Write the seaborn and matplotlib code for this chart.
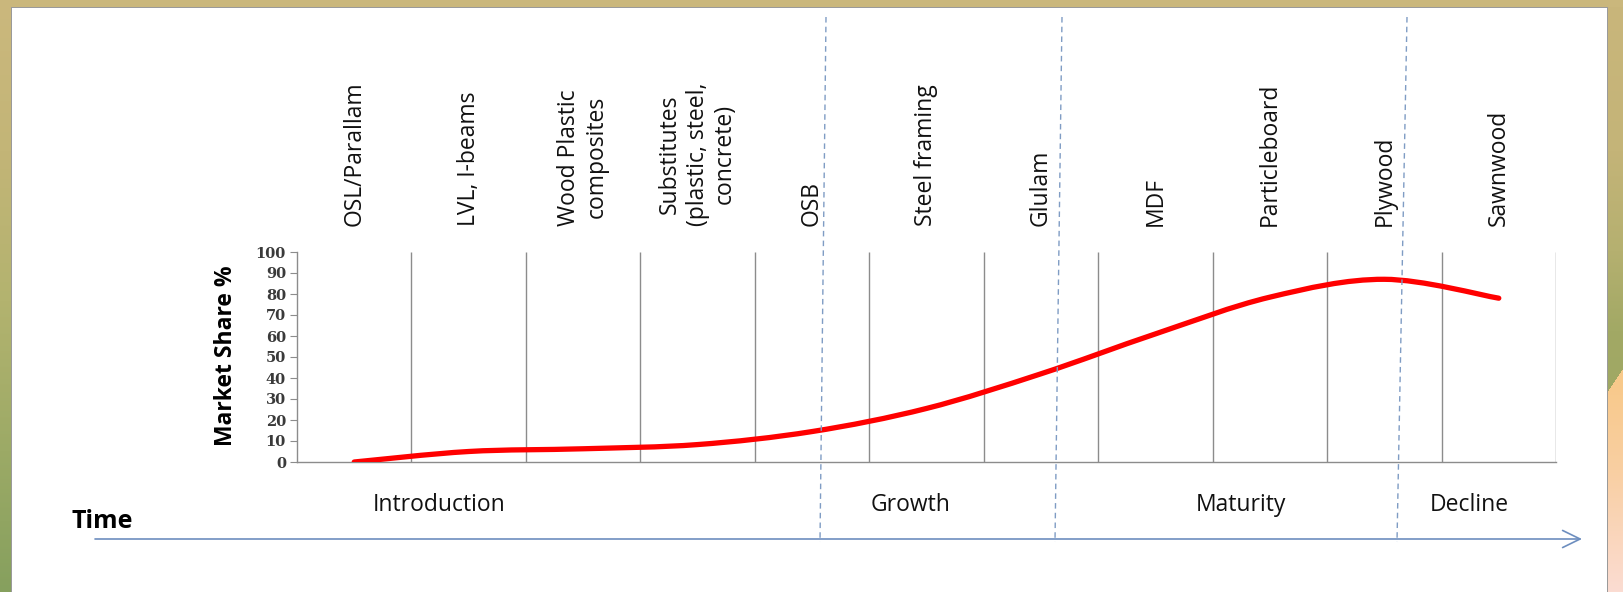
import numpy as np
import pandas as pd
import matplotlib
matplotlib.use("Agg")
import matplotlib.pyplot as plt
import seaborn as sns
from matplotlib.path import Path
from matplotlib.patches import PathPatch
from matplotlib.lines import Line2D

# ---------------- data ----------------
categories = ["OSL/Parallam", "LVL, I-beams", "Wood Plastic\ncomposites",
              "Substitutes\n(plastic, steel,\nconcrete)", "OSB", "Steel framing",
              "Glulam", "MDF", "Particleboard", "Plywood", "Sawnwood"]
market_share = [0, 5, 6.3, 8.3, 14.5, 25.5, 42, 61, 78.5, 87, 78]
y_ticks = list(range(0, 101, 10))
phases = ["Introduction", "Growth", "Maturity", "Decline"]

W, H = 1624, 592

def fx(px):
    return px / W

def fy(py):
    return 1 - py / H

def hex2rgb(h):
    h = h.lstrip('#')
    return np.array([int(h[i:i + 2], 16) / 255 for i in (0, 2, 4)])

def vgrad(stops, n):
    ys = np.arange(n)
    pos = [s[0] for s in stops]
    cols = np.array([hex2rgb(s[1]) for s in stops])
    return np.stack([np.interp(ys, pos, cols[:, c]) for c in range(3)], axis=1)

# ---------------- background (slide frame) ----------------
bg = np.ones((H, W, 3))
left = vgrad([(0, '#cbb87d'), (150, '#c3b577'), (300, '#b3b36f'), (450, '#9caa66'), (591, '#86a05e')], H)
right = vgrad([(0, '#c9b67b'), (150, '#c4b478'), (250, '#b5b070'), (330, '#a2a965'), (591, '#98a860')], H)
peach = vgrad([(0, '#f8c98a'), (380, '#f8c98a'), (470, '#f9cfa2'), (591, '#fbdcd2')], H)
bg[:, :11, :] = left[:, None, :]
bg[:, 1607:, :] = right[:, None, :]
yy, xx = np.mgrid[0:H, 0:W]
mask = (xx >= 1607) & (yy > 392 - (xx - 1607) * 1.53)
bg[mask] = peach[yy[mask]]
bg[:7, :, :] = hex2rgb('#cab77c')
# panel border
border = hex2rgb('#9a9a9a')
bg[7, 11:1608, :] = border
bg[7:, 11, :] = border
bg[7:, 1607, :] = border

sns.set_theme(style="white")
plt.rcParams['font.family'] = ['Open Sans', 'DejaVu Sans']

fig = plt.figure(figsize=(W / 100, H / 100), dpi=100)
fig.figimage(bg, xo=0, yo=0, origin='upper', zorder=-10)

ax = fig.add_axes([fx(297), fy(462), (1556 - 297) / W, (462 - 252) / H])
ax.patch.set_alpha(0)

df = pd.DataFrame({"idx": np.arange(len(categories)), "share": market_share})
sns.lineplot(data=df, x="idx", y="share", ax=ax, linewidth=0, color="red")

# smoothed line (Bezier through the data points, like a spreadsheet "smoothed line")
pts = np.column_stack([df["idx"].values, df["share"].values]).astype(float)
n = len(pts)
verts = [tuple(pts[0])]
codes = [Path.MOVETO]
for i in range(n - 1):
    p_prev = pts[max(i - 1, 0)]
    p0 = pts[i]
    p1 = pts[i + 1]
    p_next = pts[min(i + 2, n - 1)]
    c1 = p0 + (p1 - p_prev) / 6
    c2 = p1 - (p_next - p0) / 6
    verts += [tuple(c1), tuple(c2), tuple(p1)]
    codes += [Path.CURVE4] * 3
curve = PathPatch(Path(verts, codes), facecolor='none', edgecolor='#ff0000',
                  linewidth=3.8, capstyle='round', joinstyle='round', zorder=5)
ax.add_patch(curve)

ax.set_xlim(-0.5, len(categories) - 0.5)
ax.set_ylim(0, 100)

# vertical category gridlines
ax.vlines(np.arange(len(categories)) + 0.5, 0, 100, color='#8c8c8c', linewidth=1.0, zorder=1)

for s in ['top', 'right']:
    ax.spines[s].set_visible(False)
for s in ['left', 'bottom']:
    ax.spines[s].set_color('#8c8c8c')
    ax.spines[s].set_linewidth(1.0)

ax.set_yticks(y_ticks)
ax.set_yticklabels([str(v) for v in y_ticks], fontfamily='DejaVu Serif',
                   fontweight='bold', fontsize=10.5, color='#3a3a3a')
ax.tick_params(axis='y', direction='out', length=5, width=0.8, color='#8c8c8c', pad=3, left=True)

ax.set_xticks(df["idx"].values)
ax.set_xticklabels(categories, rotation=90, fontsize=16.5, color='#111111')
for lbl in ax.get_xticklabels():
    lbl.set_multialignment('center')
ax.xaxis.set_ticks_position('top')
ax.tick_params(axis='x', length=0, pad=19, top=True, bottom=False)
ax.set_xlabel("")
ax.set_ylabel("")

fig.text(fx(226), fy(356), "Market Share %", rotation=90, ha='center', va='center',
         fontsize=16.5, fontweight='bold', color='#000000')

# phase labels
phase_x = [439, 911, 1241, 1469]
for name, px in zip(phases, phase_x):
    fig.text(fx(px), fy(505), name, ha='center', va='center', fontsize=16.5, color='#111111')

# phase dividers (dashed)
for (xt, xb) in [(826, 820), (1062, 1055), (1407, 1397)]:
    fig.add_artist(Line2D([fx(xt), fx(xb)], [fy(17), fy(542)], transform=fig.transFigure,
                          color='#7f9cc4', linewidth=1.0, linestyle=(0, (4, 3)), zorder=6))

# time arrow
ax.annotate('', xy=(fx(1582), fy(539)), xytext=(fx(95), fy(539)), xycoords='figure fraction',
            textcoords='figure fraction',
            arrowprops=dict(arrowstyle='->, head_length=0.45, head_width=0.22', color='#6d8ebf',
                            lw=1.2, mutation_scale=28, shrinkA=0, shrinkB=0))
fig.text(fx(102), fy(522), "Time", ha='center', va='center', fontsize=18, fontweight='bold', color='#000000')

fig.savefig("out.png", dpi=100)
